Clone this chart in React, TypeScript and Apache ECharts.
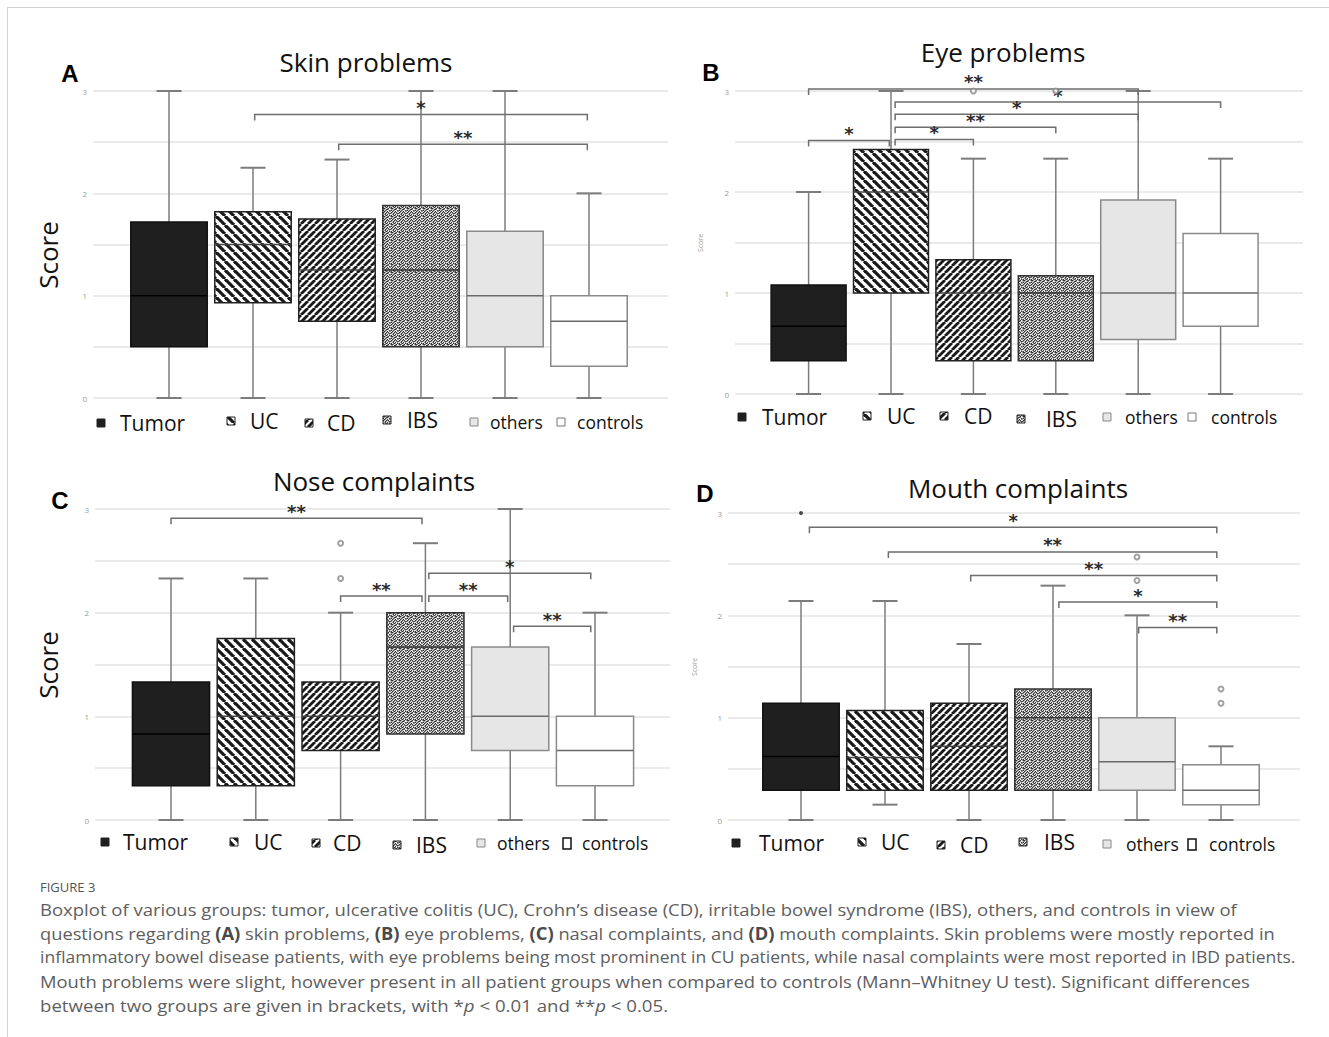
import React, { useEffect, useRef } from "react";
import * as echarts from "echarts";

// ---------------- DATA ----------------
const groups = ["Tumor", "UC", "CD", "IBS", "others", "controls"];
const yTickLabels = [0, 1, 2, 3];

// [min, Q1, median, Q3, max]
const skinBoxes = [
  [0, 0.5, 1, 1.72, 3],
  [0, 0.93, 1.5, 1.82, 2.25],
  [0, 0.75, 1.25, 1.75, 2.33],
  [0, 0.5, 1.25, 1.88, 3],
  [0, 0.5, 1, 1.63, 3],
  [0, 0.31, 0.75, 1, 2],
];
const eyeBoxes = [
  [0, 0.33, 0.67, 1.08, 2],
  [0, 1, 2, 2.42, 3],
  [0, 0.33, 1, 1.33, 2.33],
  [0, 0.33, 1, 1.17, 2.33],
  [0, 0.54, 1, 1.92, 3],
  [0, 0.67, 1, 1.59, 2.33],
];
const noseBoxes = [
  [0, 0.33, 0.83, 1.33, 2.33],
  [0, 0.33, 1, 1.75, 2.33],
  [0, 0.67, 1, 1.33, 2],
  [0, 0.83, 1.67, 2, 2.67],
  [0, 0.67, 1, 1.67, 3],
  [0, 0.33, 0.67, 1, 2],
];
const mouthBoxes = [
  [0, 0.29, 0.62, 1.14, 2.14],
  [0.15, 0.29, 0.61, 1.07, 2.14],
  [0, 0.29, 0.72, 1.14, 1.72],
  [0, 0.29, 1, 1.28, 2.29],
  [0, 0.29, 0.57, 1, 2],
  [0, 0.15, 0.29, 0.54, 0.72],
];

// outliers [groupIndex, value]
const skinOutliers: number[][] = [];
const eyeOutliers = [[2, 3], [3, 3]];
const noseOutliers = [[2, 2.67], [2, 2.33]];
const mouthOutliers = [[4, 2.57], [4, 2.34], [5, 1.28], [5, 1.14]];
const mouthExtremes = [[0, 3]];

// brackets [fromGroup, toGroup, yValue, significance]
const skinBrackets: any[] = [[1.02, 4.98, 2.77, "*"], [2.02, 4.98, 2.48, "**"]];
const eyeBrackets: any[] = [
  [0, 4, 3.02, "**"],
  [1.05, 5, 2.89, "*"],
  [1.05, 4, 2.77, "*"],
  [1.05, 3, 2.64, "**"],
  [1.05, 2, 2.52, "*"],
  [0, 0.98, 2.51, "*"],
];
const noseBrackets: any[] = [
  [0, 2.96, 2.91, "**"],
  [2, 2.96, 2.16, "**"],
  [3.04, 3.97, 2.16, "**"],
  [3.04, 4.95, 2.38, "*"],
  [4.04, 4.95, 1.87, "**"],
];
const mouthBrackets: any[] = [
  [0.1, 4.95, 2.86, "*"],
  [1.04, 4.95, 2.62, "**"],
  [2.02, 4.95, 2.39, "**"],
  [3.07, 4.95, 2.13, "*"],
  [4.02, 4.95, 1.88, "**"],
];

const panelTitles = ["Skin problems", "Eye problems", "Nose complaints", "Mouth complaints"];
const panelLetters = ["A", "B", "C", "D"];

const captionHeading = "FIGURE 3";
const captionLines: string[][][] = [
  [["Boxplot of various groups: tumor, ulcerative colitis (UC), Crohn\u2019s disease (CD), irritable bowel syndrome (IBS), others, and controls in view of", "n"]],
  [
    ["questions regarding ", "n"], ["(A)", "b"], [" skin problems, ", "n"], ["(B)", "b"], [" eye problems, ", "n"],
    ["(C)", "b"], [" nasal complaints, and ", "n"], ["(D)", "b"], [" mouth complaints. Skin problems were mostly reported in", "n"],
  ],
  [["inflammatory bowel disease patients, with eye problems being most prominent in CU patients, while nasal complaints were most reported in IBD patients.", "n"]],
  [["Mouth problems were slight, however present in all patient groups when compared to controls (Mann\u2013Whitney U test). Significant differences", "n"]],
  [["between two groups are given in brackets, with *", "n"], ["p", "i"], [" < 0.01 and **", "n"], ["p", "i"], [" < 0.05.", "n"]],
];

// ---------------- LAYOUT ----------------
const FONT = '"Open Sans", "Noto Sans", sans-serif';
const panelLayout = [
  { grid: { left: 93, top: 91, width: 575, height: 307 }, c0: 169, step: 84, title: [366, 62], letter: [70, 73], score: [48, 255], bigScore: true,
    legIcon: [101, 231, 309, 387, 474, 561], legText: [120, 250, 327, 407, 490, 577], legY: [423, 421, 423, 420, 422, 422] },
  { grid: { left: 735, top: 91, width: 568, height: 303 }, c0: 808.6, step: 82.4, title: [1003, 52], letter: [711, 72], score: [700, 243], bigScore: false,
    legIcon: [742, 867, 944, 1021, 1107, 1192], legText: [762, 887, 964, 1046, 1125, 1211], legY: [417, 416, 416, 419, 417, 417] },
  { grid: { left: 95, top: 509, width: 575, height: 311 }, c0: 171, step: 84.8, title: [374, 481], letter: [60, 500], score: [48, 665], bigScore: true,
    legIcon: [105, 234, 316, 397, 481, 567], legText: [123, 254, 333, 416, 497, 582], legY: [842, 842, 843, 845, 843, 843] },
  { grid: { left: 728, top: 513, width: 572, height: 307 }, c0: 801, step: 84, title: [1018, 488], letter: [705, 493], score: [694, 667], bigScore: false,
    legIcon: [736, 862, 941, 1023, 1107, 1192], legText: [759, 881, 960, 1044, 1126, 1209], legY: [843, 842, 845, 842, 844, 844] },
];
const legendSizes = [21, 21, 21, 21, 17.5, 17.5];

function stripePattern(size: number, width: number, dir: number) {
  const c = document.createElement("canvas");
  c.width = size; c.height = size;
  const ctx = c.getContext("2d")!;
  ctx.fillStyle = "#ffffff";
  ctx.fillRect(0, 0, size, size);
  ctx.strokeStyle = "#1a1a1a";
  ctx.lineWidth = width;
  for (let k = -1; k <= 1; k++) {
    ctx.beginPath();
    if (dir < 0) { ctx.moveTo(k * size, 0); ctx.lineTo(k * size + size, size); }
    else { ctx.moveTo(k * size, size); ctx.lineTo(k * size + size, 0); }
    ctx.stroke();
  }
  return c.toDataURL();
}

const speckle = [
  "21012012",
  "10221001",
  "02100212",
  "21020110",
  "10212002",
  "02101221",
  "12020100",
  "01210212",
];
function specklePattern() {
  const n = speckle.length;
  const c = document.createElement("canvas");
  c.width = n; c.height = n;
  const ctx = c.getContext("2d")!;
  const cols: any = { "0": "#e8e8e8", "1": "#909090", "2": "#3a3a3a" };
  for (let y = 0; y < n; y++) for (let x = 0; x < n; x++) {
    ctx.fillStyle = cols[speckle[y][x]];
    ctx.fillRect(x, y, 1, 1);
  }
  return c.toDataURL();
}

function buildOption() {
  const ucImg = stripePattern(9, 3.2, -1);
  const cdImg = stripePattern(7, 2.8, 1);
  const ibsImg = specklePattern();
  const fills: any[] = [
    "#1f1f1f",
    { image: ucImg, repeat: "repeat" },
    { image: cdImg, repeat: "repeat" },
    { image: ibsImg, repeat: "repeat" },
    "#e6e6e6",
    "#ffffff",
  ];
  const strokes = ["#111", "#222", "#222", "#333", "#8a8a8a", "#8a8a8a"];
  const medians = ["#000", "#444", "#444", "#333", "#6a6a6a", "#6a6a6a"];

  const boxesAll = [skinBoxes, eyeBoxes, noseBoxes, mouthBoxes];
  const outAll = [skinOutliers, eyeOutliers, noseOutliers, mouthOutliers];
  const brAll = [skinBrackets, eyeBrackets, noseBrackets, mouthBrackets];

  const grids: any[] = [], xAxes: any[] = [], yAxes: any[] = [], series: any[] = [], graphic: any[] = [];

  panelLayout.forEach((L, p) => {
    const g = L.grid;
    grids.push({ left: g.left, top: g.top, width: g.width, height: g.height, containLabel: false });
    xAxes.push({ gridIndex: p, type: "value", min: (g.left - L.c0) / L.step, max: (g.left + g.width - L.c0) / L.step, show: false });
    yAxes.push({
      gridIndex: p, type: "value", min: 0, max: 3, interval: 0.5,
      axisLine: { show: false }, axisTick: { show: false },
      axisLabel: { fontSize: 8, color: "#9a9a9a", margin: 6, fontFamily: FONT,
        formatter: (v: number) => (yTickLabels.indexOf(v) >= 0 ? String(v) : "") },
      splitLine: { lineStyle: { color: "#e3e3e3", width: 1.5 } },
    });

    // boxes
    series.push({
      type: "custom", name: panelTitles[p], xAxisIndex: p, yAxisIndex: p, clip: false,
      data: boxesAll[p].map((b, i) => [i, ...b]),
      renderItem: (params: any, api: any) => {
        const i = api.value(0);
        const mn = api.value(1), q1 = api.value(2), md = api.value(3), q3 = api.value(4), mx = api.value(5);
        const x = api.coord([i, md])[0];
        const band = api.size([1, 0])[0];
        const bw = band * 0.91;
        const cap = 25;
        const Y = (v: number) => api.coord([i, v])[1];
        const wl = { stroke: "#7c7c7c", lineWidth: 1.5 };
        return {
          type: "group",
          children: [
            { type: "line", shape: { x1: x, y1: Y(q3), x2: x, y2: Y(mx) }, style: wl },
            { type: "line", shape: { x1: x, y1: Y(q1), x2: x, y2: Y(mn) }, style: wl },
            { type: "line", shape: { x1: x - cap / 2, y1: Y(mx), x2: x + cap / 2, y2: Y(mx) }, style: { stroke: "#7c7c7c", lineWidth: 2 } },
            { type: "line", shape: { x1: x - cap / 2, y1: Y(mn), x2: x + cap / 2, y2: Y(mn) }, style: { stroke: "#7c7c7c", lineWidth: 2 } },
            { type: "rect", shape: { x: x - bw / 2, y: Y(q3), width: bw, height: Y(q1) - Y(q3) },
              style: { fill: fills[i], stroke: strokes[i], lineWidth: 1.5 } },
            { type: "line", shape: { x1: x - bw / 2, y1: Y(md), x2: x + bw / 2, y2: Y(md) }, style: { stroke: medians[i], lineWidth: 1.5 } },
          ],
        };
      },
    });

    // outliers
    if (outAll[p].length) {
      series.push({
        type: "scatter", xAxisIndex: p, yAxisIndex: p, clip: false, symbol: "emptyCircle", symbolSize: 5,
        itemStyle: { color: "#8a8a8a", borderWidth: 1.2 }, data: outAll[p],
      });
    }
    if (p === 3) {
      series.push({
        type: "scatter", xAxisIndex: p, yAxisIndex: p, clip: false, symbol: "circle", symbolSize: 4,
        itemStyle: { color: "#222" }, data: mouthExtremes,
      });
    }

    // brackets
    const br = brAll[p];
    series.push({
      type: "custom", xAxisIndex: p, yAxisIndex: p, clip: false,
      data: br.map((b: any[]) => [b[0], b[1], b[2]]),
      renderItem: (params: any, api: any) => {
        const a = api.value(0), b = api.value(1), y = api.value(2);
        const p1 = api.coord([a, y]);
        const p2 = api.coord([b, y]);
        const leg = 6;
        const lab = br[params.dataIndex][3];
        return {
          type: "group",
          children: [
            { type: "polyline", shape: { points: [[p1[0], p1[1] + leg], [p1[0], p1[1]], [p2[0], p2[1]], [p2[0], p2[1] + leg]] },
              style: { stroke: "#6e6e6e", lineWidth: 1.5, fill: "none" } },
            { type: "text", x: (p1[0] + p2[0]) / 2, y: p1[1] - 7,
              style: { text: lab, fontSize: 18, fontWeight: "bold", fontFamily: "DejaVu Sans", fill: "#2a2a2a",
                align: "center", verticalAlign: "middle" } },
          ],
        };
      },
    });

    // titles, letters, score labels
    graphic.push({ type: "text", x: L.title[0], y: L.title[1],
      style: { text: panelTitles[p], fontSize: 26, fontFamily: FONT, fill: "#111", align: "center", verticalAlign: "middle" } });
    graphic.push({ type: "text", x: L.letter[0], y: L.letter[1],
      style: { text: panelLetters[p], fontSize: 24, fontWeight: "bold", fontFamily: '"Liberation Sans", Arial, sans-serif', fill: "#000", align: "center", verticalAlign: "middle" } });
    graphic.push({ type: "text", x: L.score[0], y: L.score[1], rotation: Math.PI / 2,
      style: { text: "Score", fontSize: L.bigScore ? 26 : 7, fontFamily: FONT, fill: L.bigScore ? "#111" : "#999", align: "center", verticalAlign: "middle" } });

    // legend
    groups.forEach((name, i) => {
      const ix = L.legIcon[i], iy = L.legY[i];
      const tall = i === 5 && p >= 2;
      graphic.push({ type: "rect", shape: { x: ix - 4, y: iy - (tall ? 5 : 4), width: 8, height: tall ? 11 : 8 },
        style: { fill: fills[i], stroke: i === 4 ? "#888" : tall ? "#111" : i === 5 ? "#777" : "#222", lineWidth: tall ? 1.5 : 1 } });
      graphic.push({ type: "text", x: L.legText[i], y: iy,
        style: { text: name, fontSize: legendSizes[i], fontFamily: FONT, fill: "#111", align: "left", verticalAlign: "middle" } });
    });
  });

  // frame lines
  graphic.push({ type: "line", shape: { x1: 7, y1: 7.5, x2: 1329, y2: 7.5 }, style: { stroke: "#d2d2d2", lineWidth: 1 } });
  graphic.push({ type: "line", shape: { x1: 7.5, y1: 7, x2: 7.5, y2: 1037 }, style: { stroke: "#d2d2d2", lineWidth: 1 } });

  // caption
  graphic.push({ type: "text", x: 40, y: 887,
    style: { text: captionHeading, fontSize: 13, fontFamily: FONT, fill: "#555", align: "left", verticalAlign: "middle" } });
  const capSize = 17;
  const capColor = "#5e5e5e";
  const targets = [1197, 1235, 1257, 1211, 628];
  const ys = [909, 933, 957, 981, 1005];
  const cv = document.createElement("canvas");
  const ctx = cv.getContext("2d")!;
  const rich = {
    b: { fontSize: capSize, fontFamily: FONT, fontWeight: "bold", fill: "#4a4a4a" },
    i: { fontSize: capSize, fontFamily: FONT, fontStyle: "italic", fill: capColor },
  };
  captionLines.forEach((pieces, li) => {
    let w = 0;
    pieces.forEach(([t, s]) => {
      ctx.font = `${s === "i" ? "italic " : ""}${s === "b" ? "bold " : ""}${capSize}px ${FONT}`;
      w += ctx.measureText(t).width;
    });
    const text = pieces.map(([t, s]) => (s === "n" ? t : `{${s}|${t}}`)).join("");
    graphic.push({ type: "text", x: 40, y: ys[li], scaleX: w > 0 ? targets[li] / w : 1,
      style: { text, rich, fontSize: capSize, fontFamily: FONT, fill: capColor, align: "left", verticalAlign: "middle" } });
  });

  return {
    animation: false,
    backgroundColor: "#ffffff",
    grid: grids,
    xAxis: xAxes,
    yAxis: yAxes,
    series,
    graphic: { elements: graphic },
  };
}

export default function App() {
  const ref = useRef<HTMLDivElement>(null);
  useEffect(() => {
    document.body.style.margin = "0";
    const chart = echarts.init(ref.current!, null, { renderer: "svg", width: 1329, height: 1037 });
    chart.setOption(buildOption() as any);
    return () => chart.dispose();
  }, []);
  return <div ref={ref} style={{ width: 1329, height: 1037 }} />;
}
